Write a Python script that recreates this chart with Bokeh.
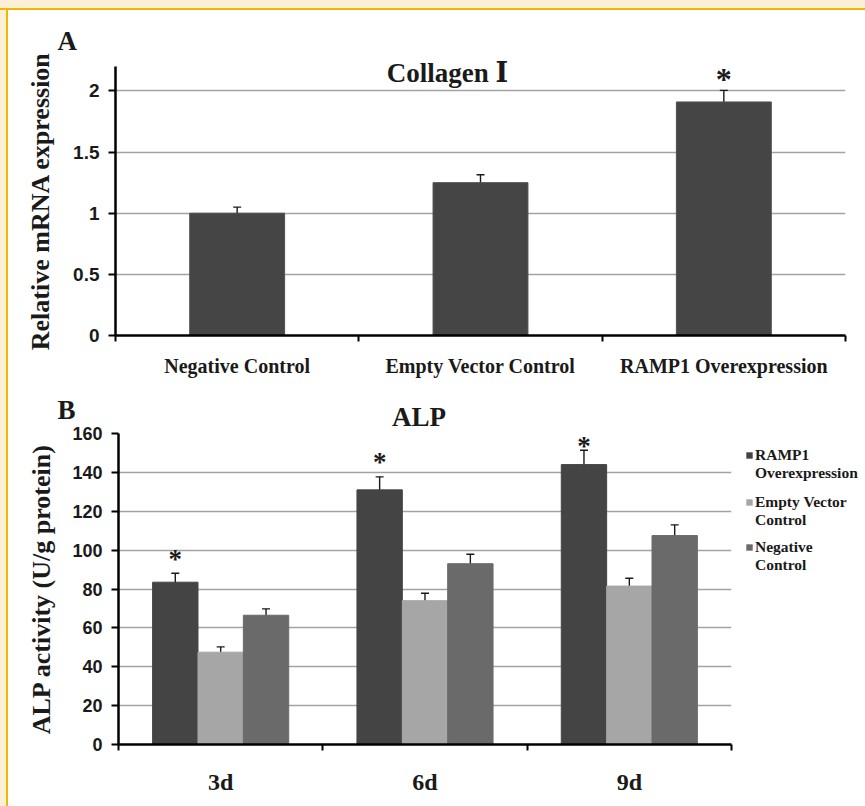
from bokeh.plotting import figure
from bokeh.models import (ColumnDataSource, Whisker, TeeHead, Label, Legend, LegendItem,
                          FixedTicker, Range1d)
from bokeh.embed import file_html
from bokeh.resources import INLINE
from bokeh.core.properties import value

# ---------------- data ----------------
A_categories = ["Negative Control", "Empty Vector Control", "RAMP1 Overexpression"]
A_values = [1.00, 1.25, 1.91]
A_errors = [0.05, 0.065, 0.095]
A_star_y = [None, None, 2.12]
A_y_ticks = [0, 0.5, 1, 1.5, 2]
A_y_labels = ["0", "0.5", "1", "1.5", "2"]

B_days = ["3d", "6d", "9d"]
B_series = [["RAMP1", "Overexpression"], ["Empty Vector", "Control"], ["Negative", "Control"]]
B_colors = ["#444444", "#a6a6a6", "#6a6a6a"]
B_ramp1 = [83.5, 131.0, 144.0]
B_ramp1_err = [4.6, 6.7, 7.4]
B_empty = [47.5, 74.0, 81.5]
B_empty_err = [2.7, 3.8, 4.0]
B_negative = [66.5, 93.0, 107.5]
B_negative_err = [3.3, 4.9, 5.5]
B_star_y = [97, 147, 155]
B_y_ticks = [0, 20, 40, 60, 80, 100, 120, 140, 160]

# ---------------- style ----------------
SERIF = "Liberation Serif"
SANS = "Liberation Sans"
TXT = "#1a1a1a"
GRID = "#a3a3a3"
W, H = 865, 806
ABS = {"position": "absolute", "top": "0px", "left": "0px"}


def base_axes(p, xticks, xlabels, yticks, xfont, yfont, ylabel, ystand, xstand):
    p.outline_line_color = None
    p.xgrid.visible = False
    p.ygrid.ticker = FixedTicker(ticks=[t for t in yticks if t != 0])
    p.ygrid.grid_line_color = GRID
    p.ygrid.grid_line_width = 1.3

    xa = p.xaxis[0]
    xa.ticker = FixedTicker(ticks=xticks, minor_ticks=list(range(len(xticks) + 1)))
    xa.major_label_overrides = dict(zip(xticks, xlabels))
    xa.major_tick_line_color = None
    xa.major_tick_out = 0
    xa.major_tick_in = 0
    xa.minor_tick_line_color = "black"
    xa.minor_tick_line_width = 2
    xa.minor_tick_out = 6
    xa.minor_tick_in = 0
    xa.axis_line_color = "black"
    xa.axis_line_width = 2.5
    xa.major_label_text_font = SERIF
    xa.major_label_text_font_style = "bold"
    xa.major_label_text_font_size = xfont
    xa.major_label_text_color = TXT
    xa.major_label_standoff = xstand

    ya = p.yaxis[0]
    ya.ticker = FixedTicker(ticks=yticks)
    ya.minor_tick_line_color = None
    ya.major_tick_line_color = "black"
    ya.major_tick_line_width = 2
    ya.major_tick_out = 7
    ya.major_tick_in = 0
    ya.axis_line_color = "black"
    ya.axis_line_width = 2.5
    ya.major_label_text_font = SANS
    ya.major_label_text_font_style = "bold"
    ya.major_label_text_font_size = yfont
    ya.major_label_text_color = TXT
    ya.major_label_standoff = 9
    ya.axis_label = ylabel
    ya.axis_label_text_font = SERIF
    ya.axis_label_text_font_style = "bold"
    ya.axis_label_text_font_size = "26px"
    ya.axis_label_text_color = TXT
    ya.axis_label_standoff = ystand


def errbars(p, x, vals, errs, head):
    src = ColumnDataSource(dict(x=x, upper=[v + e for v, e in zip(vals, errs)],
                                lower=[v - e for v, e in zip(vals, errs)]))
    w = Whisker(base="x", upper="upper", lower="lower", source=src,
                line_color="#1a1a1a", line_width=1.4,
                upper_head=TeeHead(size=head, line_color="#1a1a1a", line_width=1.4),
                lower_head=TeeHead(size=head, line_color="#1a1a1a", line_width=1.4))
    p.add_layout(w)


# ---------------- panel A ----------------
nA = len(A_categories)
A_x = [i + 0.5 for i in range(nA)]
pA = figure(width=W, height=H, x_range=Range1d(0, nA), y_range=Range1d(0, 2.2),
            output_backend="svg", toolbar_location=None,
            min_border_left=115, min_border_right=20,
            min_border_top=66, min_border_bottom=H - 335)
pA.background_fill_color = "white"
pA.border_fill_alpha = 0
pA.styles = dict(ABS, background=(
    "linear-gradient(to bottom, #FCEFD7 0px, #FCEFD7 8px, #F2B705 8px, #F2B705 10px, "
    "rgba(255,255,255,0) 10px), "
    "linear-gradient(to right, #FCEFD7 0px, #FCEFD7 6px, #F2B705 6px, #F2B705 8px, "
    "#FFFFFF 8px)"))
base_axes(pA, A_x, A_categories, A_y_ticks, "20px", "19px",
          "Relative mRNA expression", 15, 13)
pA.yaxis[0].major_label_overrides = dict(zip(A_y_ticks, A_y_labels))

pA.vbar(x=A_x, top=A_values, width=0.39, fill_color="#454545", line_color="#505050")
errbars(pA, A_x, A_values, A_errors, 8)

sx = [x for x, s in zip(A_x, A_star_y) if s is not None]
sy = [s for s in A_star_y if s is not None]
pA.text(x=sx, y=sy, text=["*"] * len(sx), text_font=value(SERIF), text_font_style="bold",
        text_font_size="32px", text_align="center", text_baseline="middle",
        text_color=TXT, y_offset=3)

# ---------------- panel B ----------------
nB = len(B_days)
B_x = [i + 0.5 for i in range(nB)]
bw = 0.222
pB = figure(width=W, height=H, x_range=Range1d(0, nB), y_range=Range1d(0, 160),
            output_backend="svg", toolbar_location=None,
            min_border_left=118, min_border_right=W - 731,
            min_border_top=433, min_border_bottom=62)
pB.background_fill_color = "white"
pB.border_fill_alpha = 0
pB.styles = dict(ABS)
base_axes(pB, B_x, B_days, B_y_ticks, "24px", "18px",
          "ALP activity (U/g protein)", 13, 18)

series = [(B_ramp1, B_ramp1_err, -bw),
          (B_empty, B_empty_err, 0.0),
          (B_negative, B_negative_err, bw)]
for (vals, errs, off), col in zip(series, B_colors):
    xs = [x + off for x in B_x]
    pB.vbar(x=xs, top=vals, width=bw, fill_color=col, line_color=col)
    errbars(pB, xs, vals, errs, 8)

stx = [x - bw for x in B_x]
pB.text(x=stx, y=B_star_y, text=["*"] * len(stx), text_font=value(SERIF),
        text_font_style="bold", text_font_size="27px", text_align="center",
        text_baseline="middle", text_color=TXT, y_offset=3)

# ---------------- panel letters, titles and legend (overlay) ----------------
pT = figure(width=W, height=H, x_range=Range1d(0, W), y_range=Range1d(H, 0),
            output_backend="svg", toolbar_location=None, title=None,
            x_axis_location=None, y_axis_location=None, min_border=0,
            min_border_left=0, min_border_right=0, min_border_top=0, min_border_bottom=0)
pT.background_fill_alpha = 0
pT.border_fill_alpha = 0
pT.outline_line_color = None
pT.grid.visible = False
pT.styles = dict(ABS)


def txt(x, y, s, size, align):
    pT.add_layout(Label(x=x, y=y, text=s, text_font=SERIF + ", DejaVu Serif",
                        text_font_style="bold", text_font_size=size, text_color=TXT,
                        text_align=align, text_baseline="alphabetic"))


txt(57, 40, "A", "27px", "left")
txt(447, 72, "Collagen Ⅰ", "27px", "center")
txt(57, 409, "B", "27px", "left")
txt(418.5, 416, "ALP", "27px", "center")

# legend swatches: zero-size bars carrying the series colours
swatches = [pT.vbar(x=[0], top=[0], width=0, fill_color=c, line_color=None) for c in B_colors]
blank = pT.vbar(x=[0], top=[0], width=0, fill_alpha=0, line_color=None)
legend_bottoms = [324, 277, 232]
for lines, sw, yb in zip(B_series, swatches, legend_bottoms):
    items = [LegendItem(label=lines[0], renderers=[sw]),
             LegendItem(label=lines[1], renderers=[blank])]
    pT.add_layout(Legend(items=items, location=(745, yb), orientation="vertical",
                         label_text_font=SERIF, label_text_font_style="bold",
                         label_text_font_size="15.5px", label_text_color=TXT,
                         label_height=18, glyph_width=8, glyph_height=8,
                         label_standoff=2, spacing=0, padding=0, margin=0,
                         border_line_color=None, background_fill_alpha=0))

open("out.html", "w").write(file_html([pA, pB, pT], INLINE))
